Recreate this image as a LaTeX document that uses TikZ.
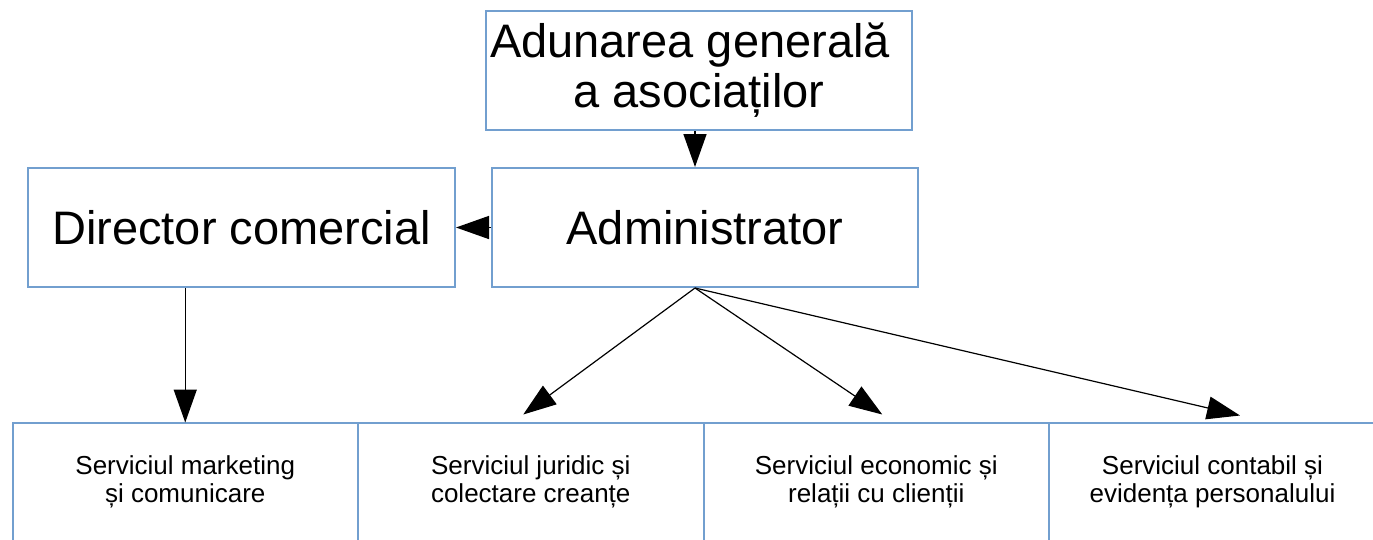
\documentclass[tikz,border=0pt]{standalone}
\usepackage{fontspec}
\setmainfont{Liberation Sans}
\usetikzlibrary{arrows.meta,positioning}
\definecolor{boxblue}{RGB}{114,159,207}

\begin{document}
\begin{tikzpicture}[x=1pt, y=-1pt,
    big/.style={rectangle, draw=boxblue, line width=2pt, inner sep=0pt, minimum width=426pt, minimum height=119pt, align=center, font=\fontsize{47}{50}\selectfont},
    dept/.style={rectangle, draw=boxblue, line width=2pt, inner sep=0pt, outer sep=0pt, minimum width=345.5pt, minimum height=118pt, align=center, font=\fontsize{26}{28}\selectfont},
    flow/.style={draw=black, line width=1.5pt, -{Triangle[length=33pt,width=23pt]}}]
  \useasboundingbox (0,0) rectangle (1373,539);
  \clip (0,0) rectangle (1373,539);
  % top levels
  \node [big] (gen) at (699,70.5) {Adunarea generală\hspace*{18pt}\\ a asociaților};
  \node [big] (adm) at (705,227.5) {Administrator};
  \node [big, minimum width=427pt] (dir) at (241.5,227.5) {Director comercial};
  % departments
  \node [dept] (mkt) at (185.25,481.5) {Serviciul marketing\\ și comunicare};
  \node [dept] (jur) [right=0pt of mkt] {Serviciul juridic și\\ colectare creanțe};
  \node [dept] (eco) [right=0pt of jur] {Serviciul economic și\\ relații cu clienții};
  \node [dept, minimum width=327pt] (con) [right=0pt of eco] {Serviciul contabil și\\ evidența personalului};
  \coordinate (hub) at ([xshift=-10pt]adm.south);
  \path (gen.south -| hub) edge [flow] (adm.north -| hub);
  \path (adm.west) edge [flow] (dir.east);
  \path (dir.south -| mkt.north) edge [flow] (mkt.north);
  \path (hub) edge [flow, line width=1.2pt] ([xshift=-7.5pt,yshift=8pt]jur.north);
  \path (hub) edge [flow, line width=1.2pt] ([xshift=6pt,yshift=8pt]eco.north);
  \path (hub) edge [flow, line width=1.2pt] ([xshift=27.5pt,yshift=7pt]con.north);
\end{tikzpicture}
\end{document}
